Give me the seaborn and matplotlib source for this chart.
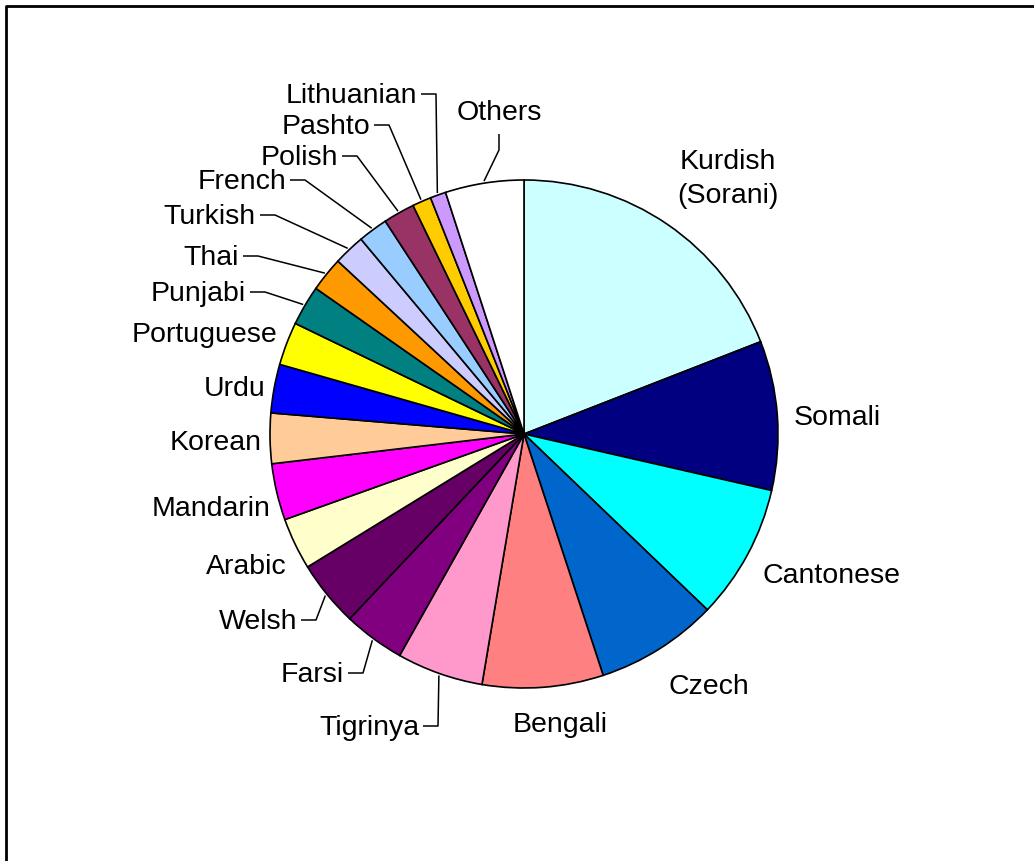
import numpy as np
import matplotlib
matplotlib.use("Agg")
import matplotlib.pyplot as plt
import seaborn as sns

# ---------------- data ----------------
languages = ["Kurdish\n(Sorani)", "Somali", "Cantonese", "Czech", "Bengali",
             "Tigrinya", "Farsi", "Welsh", "Arabic", "Mandarin", "Korean",
             "Urdu", "Portuguese", "Punjabi", "Thai", "Turkish", "French",
             "Polish", "Pashto", "Lithuanian", "Others"]
shares = [19.1, 9.5, 8.6, 7.8, 7.7,
          5.5, 3.9, 4.2, 3.3, 3.6, 3.2,
          3.1, 2.75, 2.55, 2.2, 2.0, 1.9,
          2.0, 1.2, 1.0, 5.0]
slice_colors = ["#CCFFFF", "#000080", "#00FFFF", "#0066CC", "#FF8080",
                "#FF99CC", "#800080", "#660066", "#FFFFCC", "#FF00FF", "#FFCC99",
                "#0000FF", "#FFFF00", "#008080", "#FF9900", "#CCCCFF", "#99CCFF",
                "#993366", "#FFCC00", "#CC99FF", "#FFFFFF"]

# ---------------- layout (pixel coords, y from top) ----------------
W, H = 1034, 861
CX, CY, R = 524, 434, 254
# label anchor: (x, y, ha, leader)
label_layout = [
    (728, 176, "center", None),
    (794, 415, "left", None),
    (763, 573, "left", None),
    (669, 684, "left", None),
    (513, 722, "left", None),
    (419, 725, "right", "h"),
    (344, 672, "right", "h"),
    (297, 619, "right", "h"),
    (287, 564, "right", None),
    (270, 506, "right", None),
    (262, 440, "right", None),
    (266, 386, "right", None),
    (277, 332, "right", None),
    (246, 291, "right", "h"),
    (239, 255, "right", "h"),
    (256, 214, "right", "h"),
    (286, 179, "right", "h"),
    (338, 155, "right", "h"),
    (370, 124, "right", "h"),
    (417, 93, "right", "h"),
    (499, 110, "center", "v"),
]

sns.set_theme(style="white")
plt.rcParams["font.family"] = ["Liberation Sans", "DejaVu Sans"]
palette = sns.color_palette(slice_colors)

fig = plt.figure(figsize=(W / 100, H / 100), dpi=100)
ax = fig.add_axes([0, 0, 1, 1])


def Y(y):
    return H - y


wedges, _ = ax.pie(shares, colors=palette, startangle=90, counterclock=False,
                   center=(CX, Y(CY)), radius=R, frame=False,
                   wedgeprops=dict(edgecolor="black", linewidth=1.2))
ax.set_xlim(0, W)
ax.set_ylim(0, H)
ax.set_aspect("equal")
ax.axis("off")

FS = 20.5
TEXT_DY = 3
cum = np.cumsum([0] + shares)
total = cum[-1]
for i, (name, (lx, ly, ha, leader)) in enumerate(zip(languages, label_layout)):
    ax.text(lx, Y(ly + TEXT_DY), name, ha=ha, va="center", fontsize=FS,
            color="black", multialignment="center", linespacing=1.38)
    if leader is None:
        continue
    mid = (cum[i] + cum[i + 1]) / 2 / total * 2 * np.pi
    ex = CX + (R + 2) * np.sin(mid)
    ey = CY - (R + 2) * np.cos(mid)
    if leader == "h":
        sx = lx + 4
        pts = [(sx, ly + 1), (sx + 15, ly + 1), (ex, ey)]
    else:
        pts = [(lx, ly + 24), (lx, ly + 40), (ex, ey)]
    ax.plot([p[0] for p in pts], [Y(p[1]) for p in pts], color="black",
            lw=1.1, solid_capstyle="butt")

# chart frame (top and left edges visible)
ax.plot([6, 6, W + 5], [Y(H + 5), Y(6), Y(6)], color="black", lw=2.0,
        clip_on=False)

fig.savefig("out.png", dpi=100, facecolor="white")
